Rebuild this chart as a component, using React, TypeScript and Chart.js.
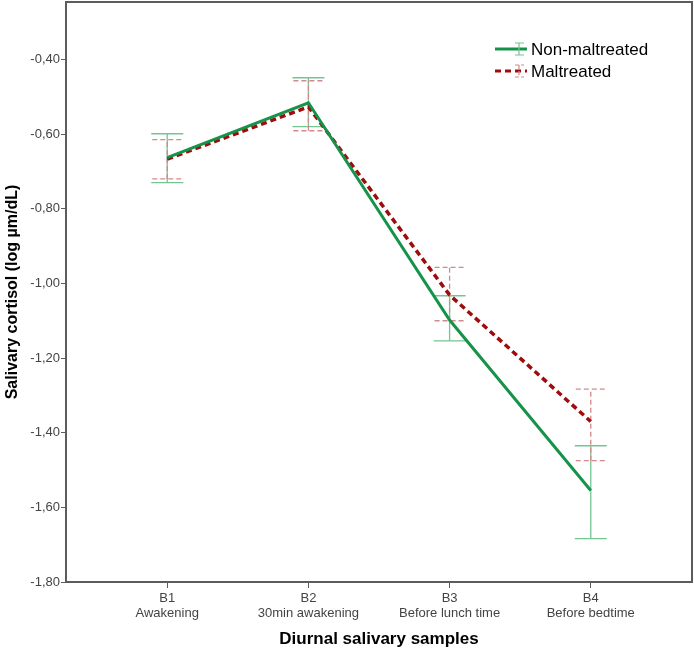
import React, { useEffect, useRef } from 'react';
import { Chart, registerables } from 'chart.js';

Chart.register(...registerables);

const categories = ['B1', 'B2', 'B3', 'B4'];
const subLabels = ['Awakening', '30min awakening', 'Before lunch time', 'Before bedtime'];
const seriesNames = ['Non-maltreated', 'Maltreated'];
const nonMaltreatedMean = [-0.663, -0.516, -1.098, -1.555];
const nonMaltreatedLow = [-0.730, -0.580, -1.154, -1.684];
const nonMaltreatedHigh = [-0.599, -0.449, -1.033, -1.435];
const maltreatedMean = [-0.667, -0.527, -1.031, -1.370];
const maltreatedLow = [-0.720, -0.591, -1.100, -1.475];
const maltreatedHigh = [-0.615, -0.457, -0.957, -1.283];
const yTicks = [-1.8, -1.6, -1.4, -1.2, -1.0, -0.8, -0.6, -0.4];

const GREEN = '#16934a';
const GREEN_BAR = '#74c594';
const RED = '#a00c0c';
const RED_BAR = '#d38989';
const FRAME = '#5c5c5c';
const FONT = '"Liberation Sans", Arial, sans-serif';

const errorBarPlugin = {
  id: 'errorBars',
  beforeDatasetsDraw(chart: any) {
    const { ctx, scales } = chart;
    const xs = scales.x;
    const ys = scales.y;
    const sets = [
      { low: nonMaltreatedLow, high: nonMaltreatedHigh, color: GREEN_BAR, dash: [] as number[], half: 16 },
      { low: maltreatedLow, high: maltreatedHigh, color: RED_BAR, dash: [5, 3], half: 15 },
    ];
    ctx.save();
    ctx.lineWidth = 1.3;
    sets.forEach((s) => {
      ctx.strokeStyle = s.color;
      ctx.setLineDash(s.dash);
      s.low.forEach((lo, i) => {
        const x = xs.getPixelForValue(i + 1);
        const yl = ys.getPixelForValue(lo);
        const yh = ys.getPixelForValue(s.high[i]);
        ctx.beginPath();
        ctx.moveTo(x, yl);
        ctx.lineTo(x, yh);
        ctx.moveTo(x - s.half, yl);
        ctx.lineTo(x + s.half, yl);
        ctx.moveTo(x - s.half, yh);
        ctx.lineTo(x + s.half, yh);
        ctx.stroke();
      });
    });
    ctx.restore();
  },
  afterDraw(chart: any) {
    const { ctx, chartArea } = chart;
    ctx.save();
    ctx.strokeStyle = FRAME;
    ctx.lineWidth = 2;
    ctx.setLineDash([]);
    ctx.strokeRect(chartArea.left, chartArea.top, chartArea.right - chartArea.left, chartArea.bottom - chartArea.top);

    // legend
    const items = [
      { name: seriesNames[0], color: GREEN, bar: GREEN_BAR, dash: [] as number[], barDash: [] as number[], y: 49 },
      { name: seriesNames[1], color: RED, bar: RED_BAR, dash: [6, 4], barDash: [4, 2], y: 71 },
    ];
    items.forEach((it) => {
      ctx.strokeStyle = it.color;
      ctx.lineWidth = 3;
      ctx.setLineDash(it.dash);
      ctx.beginPath();
      ctx.moveTo(495, it.y);
      ctx.lineTo(527, it.y);
      ctx.stroke();
      ctx.strokeStyle = it.bar;
      ctx.lineWidth = 1.2;
      ctx.setLineDash(it.barDash);
      ctx.beginPath();
      ctx.moveTo(519, it.y - 6);
      ctx.lineTo(519, it.y + 6);
      ctx.moveTo(515, it.y - 6);
      ctx.lineTo(524, it.y - 6);
      ctx.moveTo(515, it.y + 6);
      ctx.lineTo(524, it.y + 6);
      ctx.stroke();
      ctx.setLineDash([]);
      ctx.fillStyle = '#000';
      ctx.font = `17px ${FONT}`;
      ctx.textBaseline = 'middle';
      ctx.textAlign = 'left';
      ctx.fillText(it.name, 531, it.y + 1);
    });
    ctx.restore();
  },
};

export default function App() {
  const ref = useRef<HTMLCanvasElement | null>(null);
  useEffect(() => {
    if (!ref.current) return;
    const chart = new Chart(ref.current, {
      type: 'line',
      data: {
        datasets: [
          {
            label: seriesNames[0],
            data: nonMaltreatedMean.map((v, i) => ({ x: i + 1, y: v })),
            borderColor: GREEN,
            borderWidth: 3,
            pointRadius: 0,
            fill: false,
            tension: 0,
          },
          {
            label: seriesNames[1],
            data: maltreatedMean.map((v, i) => ({ x: i + 1, y: v })),
            borderColor: RED,
            borderWidth: 3.5,
            borderDash: [6, 4],
            pointRadius: 0,
            fill: false,
            tension: 0,
          },
        ],
      },
      options: {
        responsive: false,
        animation: false,
        layout: { padding: { left: 0, right: 2, top: 2, bottom: 0 } },
        plugins: { legend: { display: false }, tooltip: { enabled: false } },
        scales: {
          x: {
            type: 'linear',
            min: 0.283,
            max: 4.717,
            afterBuildTicks: (scale: any) => {
              scale.ticks = categories.map((_, i) => ({ value: i + 1 }));
            },
            afterFit: (scale: any) => {
              scale.height = 70;
              scale.paddingLeft = 0;
              scale.paddingRight = 0;
            },
            ticks: {
              autoSkip: false,
              maxRotation: 0,
              padding: 3,
              color: '#444',
              font: { family: FONT, size: 13, lineHeight: 1.15 },
              callback: (v: any) => {
                const i = Math.round(Number(v)) - 1;
                return [categories[i], subLabels[i]];
              },
            },
            grid: { drawOnChartArea: false, drawTicks: true, tickLength: 6, color: FRAME },
            border: { display: false },
            title: {
              display: true,
              text: 'Diurnal salivary samples',
              color: '#000',
              font: { family: FONT, size: 17, weight: 'bold' },
              padding: { top: 0, bottom: 2 },
            },
          },
          y: {
            type: 'linear',
            min: -1.8,
            max: -0.246,
            afterBuildTicks: (scale: any) => {
              scale.ticks = yTicks.map((v) => ({ value: v }));
            },
            afterFit: (scale: any) => {
              scale.width = 66;
              scale.paddingTop = 0;
              scale.paddingBottom = 0;
            },
            ticks: {
              padding: 1,
              color: '#444',
              font: { family: FONT, size: 13 },
              callback: (v: any) => Number(v).toFixed(2).replace('.', ','),
            },
            grid: { drawOnChartArea: false, drawTicks: true, tickLength: 5, color: FRAME },
            border: { display: false },
            title: {
              display: true,
              text: 'Salivary cortisol (log µm/dL)',
              color: '#000',
              font: { family: FONT, size: 16, weight: 'bold' },
              padding: { top: 3, bottom: 0 },
            },
          },
        },
      },
      plugins: [errorBarPlugin],
    } as any);
    return () => chart.destroy();
  }, []);
  return (
    <div style={{ position: 'fixed', left: 0, top: 0, width: 694, height: 652 }}>
      <canvas ref={ref} width={694} height={652} />
    </div>
  );
}
